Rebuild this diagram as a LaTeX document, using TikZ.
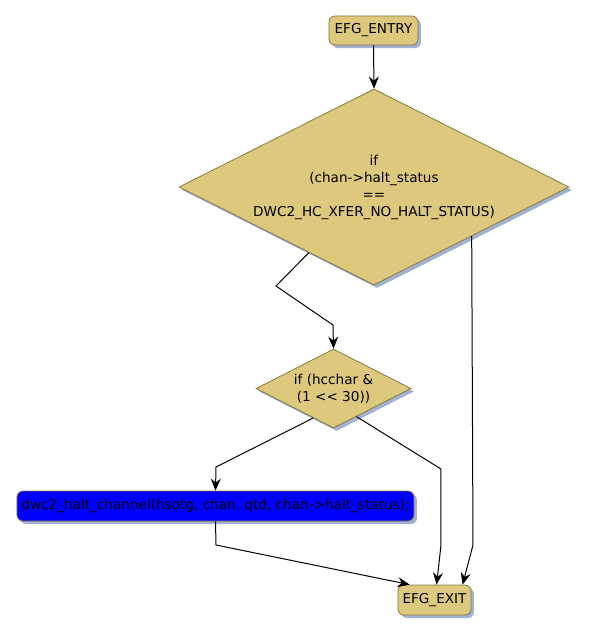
\documentclass[tikz,border=0pt]{standalone}
\usepackage{fontspec}
\setmainfont{DejaVu Sans}[Ligatures=TeXOff]
\usepackage{tikz}
\usetikzlibrary{shapes.geometric, arrows.meta, positioning, calc, shadows}
\definecolor{mytan}{RGB}{221,201,126}
\definecolor{myolive}{RGB}{140,120,60}
\definecolor{myshadow}{RGB}{160,178,210}
\definecolor{myblue}{RGB}{0,0,255}
\tikzset{
  block/.style={rectangle, draw=myolive, fill=mytan, align=center,
    rounded corners=3pt, inner sep=0pt, line width=0.4pt,
    drop shadow={shadow xshift=1.5pt, shadow yshift=-1.5pt, fill=myshadow, opacity=1}},
  decision/.style={diamond, draw=myolive, fill=mytan, align=center,
    inner sep=0pt, line width=0.4pt, shape aspect=2,
    drop shadow={shadow xshift=1.5pt, shadow yshift=-1.5pt, fill=myshadow, opacity=1}},
  arrow/.style={-{Stealth[length=6pt, width=5pt, inset=2pt]}, line width=0.5pt, color=black},
  every node/.style={font=\fontsize{6.8}{8.5}\selectfont}
}

\begin{document}
\begin{tikzpicture}[x=0.5pt, y=-0.5pt]
  \useasboundingbox (0,0) rectangle (589,634);

  % Entry
  \node[block, minimum width=44.5pt, minimum height=14.5pt] (entry) at (373.5,30.5) {EFG\_ENTRY};

  % First test
  \node[decision, minimum width=195pt, minimum height=98pt] (test1) at (374,187)
    {if\\(chan->halt\_status\\==\\DWC2\_HC\_XFER\_NO\_HALT\_STATUS)};

  % Second test
  \node[decision, minimum width=77.5pt, minimum height=39.5pt] (test2) at (333.5,388.5)
    {if (hcchar \&\\(1 << 30))};

  % Halt call
  \node[block, fill=myblue, minimum width=198.5pt, minimum height=15pt] (halt) at (215.5,506)
    {dwc2\_halt\_channel(hsotg, chan, qtd, chan->halt\_status);};

  % Exit
  \node[block, minimum width=36.5pt, minimum height=15pt] (exit) at (434.5,600) {EFG\_EXIT};

  % Connectors
  \draw[arrow] (entry.south) -- (test1.north);
  \draw[arrow] ($(test1.west)!0.667!(test1.south)$) -- (276,286) -- (333,325) -- (test2.north);
  \draw[arrow] (test1.south east) -- (473,545) -- ([xshift=32.5pt]exit.north west);
  \draw[arrow] ($(test2.west)!0.74!(test2.south)$) -- (216,467) -- (halt.north);
  \draw[arrow] ($(test2.east)!0.705!(test2.south)$) -- (441,469) -- (441,545) -- ([xshift=19.5pt]exit.north west);
  \draw[arrow] (halt.south) -- (216,545) -- ([xshift=6pt]exit.north west);
\end{tikzpicture}
\end{document}
